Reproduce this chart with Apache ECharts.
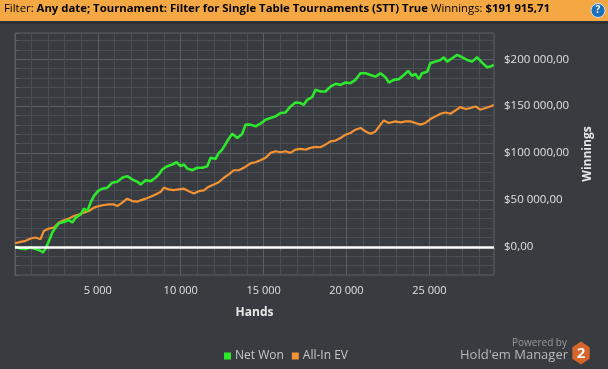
<!DOCTYPE html>
<html>
<head>
<meta charset="utf-8">
<script src="https://cdn.jsdelivr.net/npm/echarts@6/dist/echarts.min.js"></script>
<style>
html,body{margin:0;padding:0;background:#383b3f;}
#c{width:608px;height:369px;}
</style>
</head>
<body>
<div id="c"></div>
<script>
// ---- data ----
var netWonHands = [0,340,640,940,1240,1540,1680,1850,2050,2250,2450,2650,2950,3250,3460,3660,3960,4160,4360,4560,4760,5000,5270,5570,5870,6170,6470,6770,7070,7380,7580,7880,8180,8480,8680,8880,9190,9490,9750,9990,10190,10390,10690,10990,11300,11600,11800,12100,12300,12500,12800,13110,13410,13710,13910,14210,14510,14810,15110,15420,15720,16020,16320,16620,16920,17230,17420,17630,17930,18130,18430,18730,19030,19340,19640,19940,20240,20540,20840,21150,21450,21750,22050,22350,22550,22850,23150,23460,23720,23960,24160,24360,24560,24870,25060,25370,25670,25870,26070,26370,26680,26980,27280,27580,27880,28180,28480,28680,28880];
var netWon = [0,-1700,-2400,-600,-2400,-4200,-5900,-1700,6400,15300,20600,25200,26500,28700,25900,31200,34700,40800,38200,47100,54100,59400,62000,63100,68400,69400,73700,75400,71900,69400,66600,71100,70100,73700,77200,82500,86000,87800,90200,86000,87800,83500,81700,84300,84300,86000,94900,93800,100200,103700,112500,120700,116100,120400,130300,130300,128500,131300,135600,137400,139100,142700,143300,149700,153900,153300,151500,156800,159700,167400,165600,165600,170900,173800,172700,175200,174500,178000,185100,185100,183300,181500,185100,180900,175200,178000,178800,183300,187600,182300,184400,178800,185100,186800,195800,197500,199300,202100,197500,201100,204600,202100,199300,197500,202100,196400,191500,192200,194000];

var allInHands = [0,340,640,940,1240,1540,1740,2050,2350,2650,2950,3250,3550,3850,4160,4460,4760,5060,5360,5660,5970,6170,6470,6770,7070,7380,7580,7880,8180,8480,8780,8980,9280,9580,9890,10190,10490,10790,11090,11390,11690,12000,12300,12600,12900,13200,13500,13810,14210,14510,14810,15110,15420,15720,16020,16320,16620,16920,17230,17530,17830,18130,18430,18730,19030,19340,19640,19940,20240,20540,20840,21150,21450,21750,22050,22250,22550,22950,23260,23560,23860,24160,24460,24760,25060,25370,25670,25970,26270,26570,26870,27180,27480,27780,28080,28380,28680,28880];
var allInEV = [3900,5300,6400,8900,10000,8200,17000,19500,20600,25900,28300,30100,32900,34400,36500,38200,41800,43500,44600,45300,45300,43500,47100,51400,48800,48200,49600,51400,53500,55900,58400,63100,61300,60500,61300,62000,59400,57000,59400,60200,64100,66600,69000,73700,77200,81700,81700,84300,89000,90200,92400,94900,100200,101900,100900,101900,100200,103700,104500,103700,105500,106600,106200,109000,112500,113300,116100,119600,121400,124900,126800,123100,120700,123100,130300,134800,132100,133800,132700,133800,133800,132100,130300,132100,136300,139100,141900,143300,141900,145400,149000,146900,148000,149700,146200,148000,149700,151200];

var seriesNames = ['Net Won', 'All-In EV'];
var xMin = 0, xMax = 28900, xStep = 1000, xLabelStep = 5000;
var yMin = -30000, yMax = 228000, yStep = 10000, yLabelStep = 50000;
var headerParts = [
  ['n', 'Filter: '],
  ['b', 'Any date; Tournament: Filter for Single Table Tournaments (STT) True '],
  ['n', 'Winnings: '],
  ['b', '$191 915,71']
];

// ---- helpers ----
function pairs(xs, ys){ var o=[]; for(var i=0;i<xs.length;i++) o.push([xs[i], ys[i]]); return o; }
function grp(v){ return String(Math.abs(v)).replace(/\B(?=(\d{3})+(?!\d))/g, ' '); }

var BG = '#383b3f', MAJ = '#5b5e62', MIN = '#4a4d51';
var GREEN = '#2ee82e', ORANGE = '#f39233';
var FONT = 'Open Sans';

var xColors = [];
for (var i = 0; i < xLabelStep / xStep; i++) xColors.push(i === 0 ? MAJ : MIN);
var yColors = [];
var yPer = yLabelStep / yStep;
var yOff = ((-yMin / yStep) % yPer + yPer) % yPer;
for (var j = 0; j < yPer; j++) yColors.push(j === yOff ? MAJ : MIN);

var hexPts = [];
for (var k = 0; k < 6; k++) {
  var a = Math.PI / 180 * (60 * k - 90);
  hexPts.push([581 + 10 * Math.cos(a), 353 + 11.5 * Math.sin(a)]);
}

var chart = echarts.init(document.getElementById('c'), null, {renderer: 'canvas'});
chart.setOption({
  backgroundColor: BG,
  animation: false,
  grid: {left: 15, right: 114, top: 33, bottom: 94, show: true, borderColor: MAJ, borderWidth: 1, backgroundColor: 'transparent'},
  legend: {
    data: seriesNames,
    left: 219, top: 345,
    icon: 'rect', itemWidth: 7, itemHeight: 7, itemGap: 8,
    textStyle: {color: '#c8c8c8', fontFamily: FONT, fontSize: 12, padding: [0,0,0,-1]},
    inactiveColor: '#777'
  },
  xAxis: {
    type: 'value', min: xMin, max: xMax, interval: xStep,
    name: 'Hands', nameLocation: 'middle', nameGap: 32,
    nameTextStyle: {color: '#e8e8e8', fontFamily: FONT, fontWeight: 'bold', fontSize: 12},
    axisLine: {show: true, lineStyle: {color: MAJ}},
    axisTick: {show: true, length: 4, lineStyle: {color: MAJ}},
    splitLine: {show: true, lineStyle: {color: xColors, width: 1}},
    axisLabel: {
      color: '#e0e0e0', fontFamily: FONT, fontSize: 11, margin: 10,
      formatter: function(v){ return (v > 0 && v % xLabelStep === 0) ? grp(v) : ''; }
    }
  },
  yAxis: {
    type: 'value', position: 'right', min: yMin, max: yMax, interval: yStep,
    name: 'Winnings', nameLocation: 'middle', nameGap: 88,
    nameTextStyle: {color: '#e8e8e8', fontFamily: FONT, fontWeight: 'bold', fontSize: 12},
    axisLine: {show: true, lineStyle: {color: MAJ}},
    axisTick: {show: true, length: 4, lineStyle: {color: MAJ}},
    splitLine: {show: true, lineStyle: {color: yColors, width: 1}},
    axisLabel: {
      color: '#e0e0e0', fontFamily: FONT, fontSize: 11.5, margin: 10,
      formatter: function(v){ return (v % yLabelStep === 0) ? ('$' + grp(v) + ',00') : ''; }
    }
  },
  series: [
    {
      name: seriesNames[1], type: 'line', data: pairs(allInHands, allInEV),
      showSymbol: false, symbol: 'none', color: ORANGE,
      lineStyle: {color: ORANGE, width: 2.2}, z: 2
    },
    {
      name: seriesNames[0], type: 'line', data: pairs(netWonHands, netWon),
      showSymbol: false, symbol: 'none', color: GREEN,
      lineStyle: {color: GREEN, width: 2.6}, z: 3,
      markLine: {
        silent: true, symbol: ['none','none'], label: {show: false},
        lineStyle: {color: '#ffffff', width: 2.5, type: 'solid'},
        data: [{yAxis: 0}]
      }
    }
  ],
  graphic: [
    {type: 'rect', left: 0, top: 0, z: 10, shape: {width: 608, height: 21}, style: {fill: '#f3a843'}},
    {type: 'rect', left: 0, top: 21, z: 10, shape: {width: 608, height: 3}, style: {fill: '#2e3134'}},
    {type: 'text', left: 4, top: 3, z: 11, style: {
      text: headerParts.map(function(p){ return '{' + p[0] + '|' + p[1] + '}'; }).join(''),
      rich: {
        n: {fontFamily: FONT, fontSize: 11.35, color: '#2a2a2a'},
        b: {fontFamily: FONT, fontSize: 11.35, fontWeight: 'bold', color: '#1a1a1a'}
      }
    }},
    {type: 'circle', z: 11, shape: {cx: 598, cy: 10.5, r: 7}, style: {fill: '#1d6fb8', stroke: '#cfe3f5', lineWidth: 1}},
    {type: 'text', z: 12, x: 598, y: 10.5, style: {text: '?', fill: '#fff', font: 'bold 10px ' + FONT, align: 'center', verticalAlign: 'middle'}},
    {type: 'text', z: 11, x: 567, y: 343, style: {text: 'Powered by', fill: '#9a9a9a', font: '10px ' + FONT, align: 'right', verticalAlign: 'middle'}},
    {type: 'text', z: 11, x: 568, y: 355, style: {text: "Hold'em Manager", fill: '#b8b8b8', font: '13px ' + FONT, align: 'right', verticalAlign: 'middle'}},
    {type: 'polygon', z: 11, shape: {points: hexPts}, style: {fill: '#d6652b'}},
    {type: 'text', z: 12, x: 581, y: 353.5, style: {text: '2', fill: '#f5f5f5', font: 'bold 15px ' + FONT, align: 'center', verticalAlign: 'middle'}}
  ]
});
</script>
</body>
</html>
